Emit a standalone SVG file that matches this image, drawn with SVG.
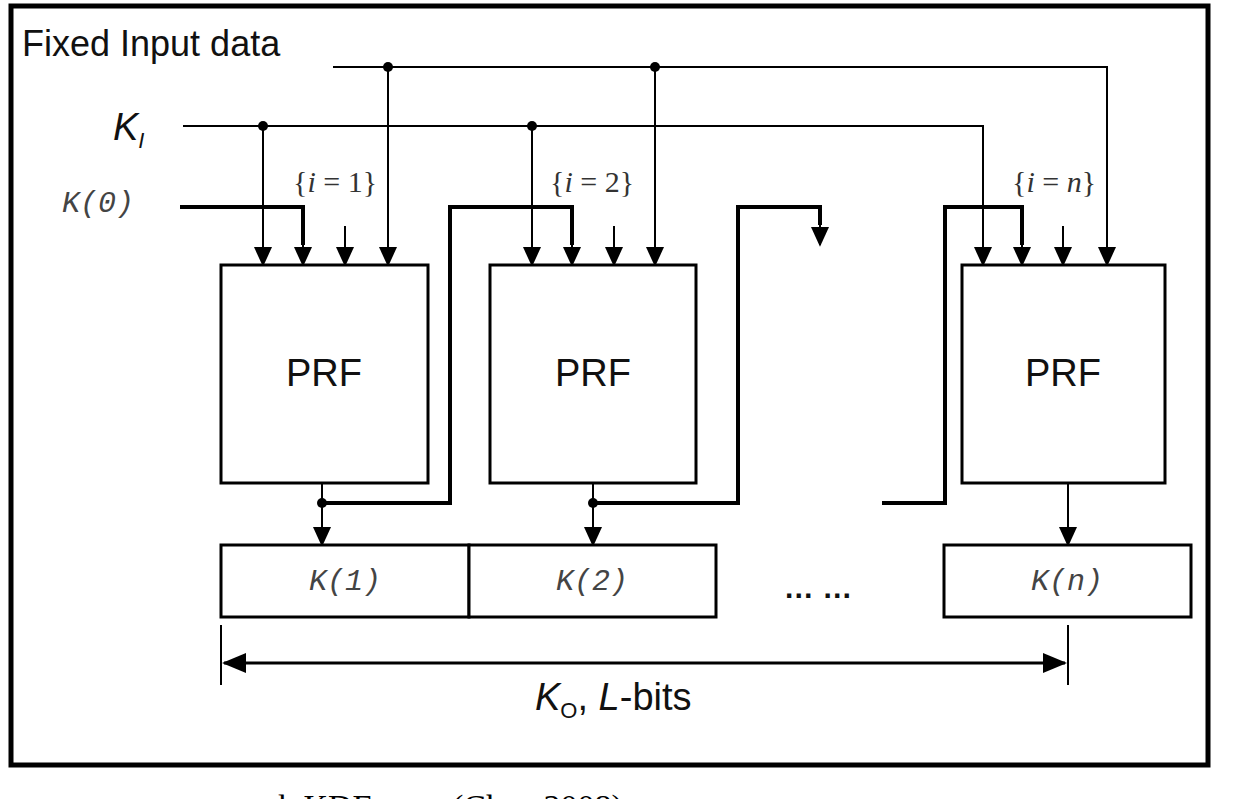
<svg xmlns="http://www.w3.org/2000/svg" width="1239" height="799" viewBox="0 0 1239 799">
<defs>
<marker id="ah2" markerWidth="24" markerHeight="20" refX="22" refY="10" orient="auto-start-reverse" markerUnits="userSpaceOnUse" viewBox="0 0 24 20"><path d="M0,0 L24,10 L0,20 z" fill="#000"/></marker>
<marker id="av" markerWidth="20" markerHeight="22" refX="20" refY="10" orient="auto" markerUnits="userSpaceOnUse" viewBox="0 0 22 20"><path d="M0,0 L22,10 L0,20 z" fill="#000"/></marker>
</defs>
<style>
.w{fill:none;stroke:#000;stroke-width:2}
.t{fill:none;stroke:#000;stroke-width:4}
.box{fill:#fff;stroke:#000;stroke-width:3}
.s{font-family:"Liberation Sans",Arial,sans-serif;fill:#111}
.m{font-family:"Liberation Mono","Courier New",monospace;font-style:italic;fill:#444;font-size:30px}
.r{font-family:"Liberation Serif","Times New Roman",serif;fill:#333;font-size:30px}
</style>
<rect width="1239" height="799" fill="#fff"/>
<rect x="11" y="6" width="1197" height="759" fill="none" stroke="#000" stroke-width="5"/>
<text class="s" x="22" y="56" font-size="36">Fixed Input data</text>
<text class="s" x="113" y="140" font-size="38" font-style="italic">K<tspan font-size="22" dy="8">I</tspan></text>
<text class="m" x="62" y="212">K(0)</text>
<text class="r" x="293" y="192">{<tspan font-style="italic">i</tspan> = 1}</text>
<text class="r" x="550" y="192">{<tspan font-style="italic">i</tspan> = 2}</text>
<text class="r" x="1012" y="192">{<tspan font-style="italic">i</tspan> = <tspan font-style="italic">n</tspan>}</text>
<g id="connectors">
<path class="w" d="M333,67 H1107 V265" marker-end="url(#av)"/>
<path class="w" d="M388,67 V265" marker-end="url(#av)"/>
<path class="w" d="M655,67 V265" marker-end="url(#av)"/>
<path class="w" d="M183,126 H983 V265" marker-end="url(#av)"/>
<path class="w" d="M263,126 V265" marker-end="url(#av)"/>
<path class="w" d="M532,126 V265" marker-end="url(#av)"/>
<path class="t" d="M180,207 H303 V245"/><path class="w" d="M303,240 V265" marker-end="url(#av)"/>
<path class="w" d="M345,226 V265" marker-end="url(#av)"/>
<path class="w" d="M614,226 V265" marker-end="url(#av)"/>
<path class="w" d="M1063,226 V265" marker-end="url(#av)"/>
<path class="w" d="M322,483 V545" marker-end="url(#av)"/>
<path class="w" d="M593,483 V545" marker-end="url(#av)"/>
<path class="w" d="M1068,483 V545" marker-end="url(#av)"/>
<path class="t" d="M322,503 H450 V207 H572 V245"/><path class="w" d="M572,240 V265" marker-end="url(#av)"/>
<path class="t" d="M593,503 H738 V207 H820 V225"/><path class="w" d="M820,220 V245" marker-end="url(#av)"/>
<path class="t" d="M882,503 H945 V207 H1022 V245"/><path class="w" d="M1022,240 V265" marker-end="url(#av)"/>
<circle cx="388" cy="67" r="5"/><circle cx="655" cy="67" r="5"/>
<circle cx="263" cy="126" r="5"/><circle cx="532" cy="126" r="5"/>
<circle cx="322" cy="503" r="5"/><circle cx="593" cy="503" r="5"/>
<path class="w" d="M221,625 V685 M1068,625 V685"/>
<path d="M224,663 H1065" stroke="#000" stroke-width="3" fill="none" marker-start="url(#ah2)" marker-end="url(#ah2)"/>
</g>
<g id="prf1"><rect class="box" x="221" y="265" width="207" height="218"/><text class="s" x="324" y="386" font-size="38" text-anchor="middle">PRF</text></g>
<g id="prf2"><rect class="box" x="490" y="265" width="206" height="218"/><text class="s" x="593" y="386" font-size="38" text-anchor="middle">PRF</text></g>
<g id="prfn"><rect class="box" x="962" y="265" width="203" height="218"/><text class="s" x="1063" y="386" font-size="38" text-anchor="middle">PRF</text></g>
<g id="k1"><rect class="box" x="221" y="545" width="248" height="72"/><text class="m" x="345" y="590" text-anchor="middle">K(1)</text></g>
<g id="k2"><rect class="box" x="469" y="545" width="247" height="72"/><text class="m" x="592" y="590" text-anchor="middle">K(2)</text></g>
<g id="kn"><rect class="box" x="944" y="545" width="247" height="72"/><text class="m" x="1067" y="590" text-anchor="middle">K(n)</text></g>
<text class="s" x="818" y="598" font-size="30" font-weight="bold" text-anchor="middle">… …</text>
<text class="s" x="535" y="710" font-size="38" font-style="italic">K<tspan font-size="22" dy="8" font-style="normal">O</tspan><tspan dy="-8" font-style="normal">, </tspan>L<tspan font-style="normal">-bits</tspan></text>
<text font-family="Liberation Serif,serif" font-size="34" x="278" y="818">k KDF</text>
<text font-family="Liberation Serif,serif" font-size="34" x="452" y="818">(Chen 2008)</text>
</svg>
